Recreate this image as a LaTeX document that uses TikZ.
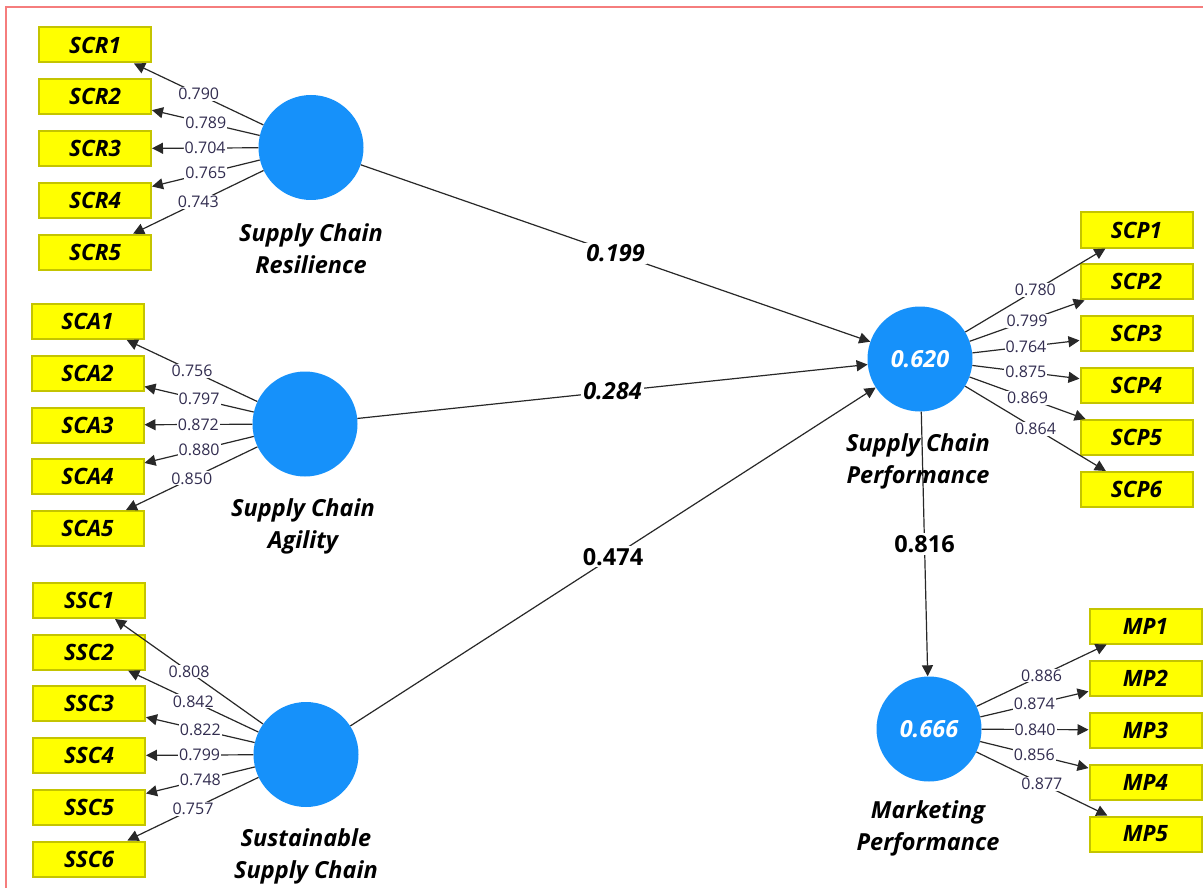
\documentclass[tikz,border=0pt]{standalone}
\usepackage{fontspec}
\setmainfont{Open Sans}
\usetikzlibrary{arrows.meta}
\definecolor{lvblue}{RGB}{22,145,250}
\definecolor{boxyellow}{RGB}{255,255,0}
\definecolor{boxedge}{RGB}{196,196,0}
\definecolor{loadtxt}{RGB}{50,45,80}
\definecolor{framecol}{RGB}{245,125,125}
\definecolor{linecol}{RGB}{40,40,40}
\begin{document}
\begin{tikzpicture}[x=1pt,y=-1pt,
  ind/.style={draw=boxedge, line width=2pt, fill=boxyellow, minimum width=112pt, minimum height=35pt, inner sep=0pt,
    font=\fontsize{22.5}{26}\selectfont\bfseries\itshape},
  lv/.style={circle, fill=lvblue, minimum size=105pt, inner sep=0pt, text=white,
    font=\fontsize{23.5}{27}\selectfont\bfseries\itshape},
  lvlab/.style={align=center, font=\fontsize{23.5}{32}\selectfont\bfseries\itshape},
  ld/.style={draw=linecol, line width=1.2pt, -{Triangle[length=11pt,width=11pt]}},
  ldlab/.style={fill=white, inner sep=1pt, text=loadtxt, font=\fontsize{16}{19}\selectfont},
  pathlab/.style={fill=white, inner sep=2pt, font=\fontsize{23.5}{27}\selectfont\bfseries}
]
\useasboundingbox (0,0) rectangle (1203,888);
\fill[white] (0,0) rectangle (1203,888);
\draw[framecol, line width=2pt] (6,888) -- (6,7.5) -- (1203,7.5);

% latent variables
\node[lv] (SCR) at (311,147.5) {};
\node[lv] (SCA) at (305,424) {};
\node[lv] (SSC) at (306,754.5) {};
\node[lv] (SCP) at (920,359) {0.620};
\node[lv] (MP) at (929,729) {0.666};

% indicators
\foreach \i [count=\k from 0] in {1,...,5}
  \node[ind] (SCR\i) at (95,45+51.8*\k) {SCR\i};
\foreach \i [count=\k from 0] in {1,...,5}
  \node[ind] (SCA\i) at (87.5,321.5+51.75*\k) {SCA\i};
\foreach \i [count=\k from 0] in {1,...,6}
  \node[ind] (SSC\i) at (89,600.5+51.7*\k) {SSC\i};
\foreach \i [count=\k from 0] in {1,...,6}
  \node[ind] (SCP\i) at (1136.5,230+51.9*\k) {SCP\i};
\foreach \i [count=\k from 0] in {1,...,5}
  \node[ind] (MP\i) at (1145.5,626+52*\k) {MP\i};

% outer loadings
\foreach \i/\v in {1/0.790,2/0.789,3/0.704,4/0.765,5/0.743}
  \draw[ld] (SCR) -- node[ldlab]{\v} (SCR\i);
\foreach \i/\v in {1/0.756,2/0.797,3/0.872,4/0.880,5/0.850}
  \draw[ld] (SCA) -- node[ldlab]{\v} (SCA\i);
\foreach \i/\v in {1/0.808,2/0.842,3/0.822,4/0.799,5/0.748,6/0.757}
  \draw[ld] (SSC) -- node[ldlab]{\v} (SSC\i);
\foreach \i/\v in {1/0.780,2/0.799,3/0.764,4/0.875,5/0.869,6/0.864}
  \draw[ld] (SCP) -- node[ldlab]{\v} (SCP\i);
\foreach \i/\v in {1/0.886,2/0.874,3/0.840,4/0.856,5/0.877}
  \draw[ld] (MP) -- node[ldlab]{\v} (MP\i);

% structural paths
\draw[ld] (SCR) -- node[pathlab]{\itshape 0.199} (SCP);
\draw[ld] (SCA) -- node[pathlab]{\itshape 0.284} (SCP);
\draw[ld] (SSC) -- node[pathlab]{0.474} (SCP);
\draw[ld] (SCP) -- node[pathlab]{0.816} (MP);

% latent labels
\node[lvlab] (SCRlab) at (311,249) {Supply Chain\\Resilience};
\node[lvlab] (SCAlab) at (303,526) {Supply Chain\\Agility};
\node[lvlab] (SSClab) at (306,856) {Sustainable\\Supply Chain};
\node[lvlab] (SCPlab) at (918,461) {Supply Chain\\Performance};
\node[lvlab] (MPlab) at (928,828) {Marketing\\Performance};
\end{tikzpicture}
\end{document}
